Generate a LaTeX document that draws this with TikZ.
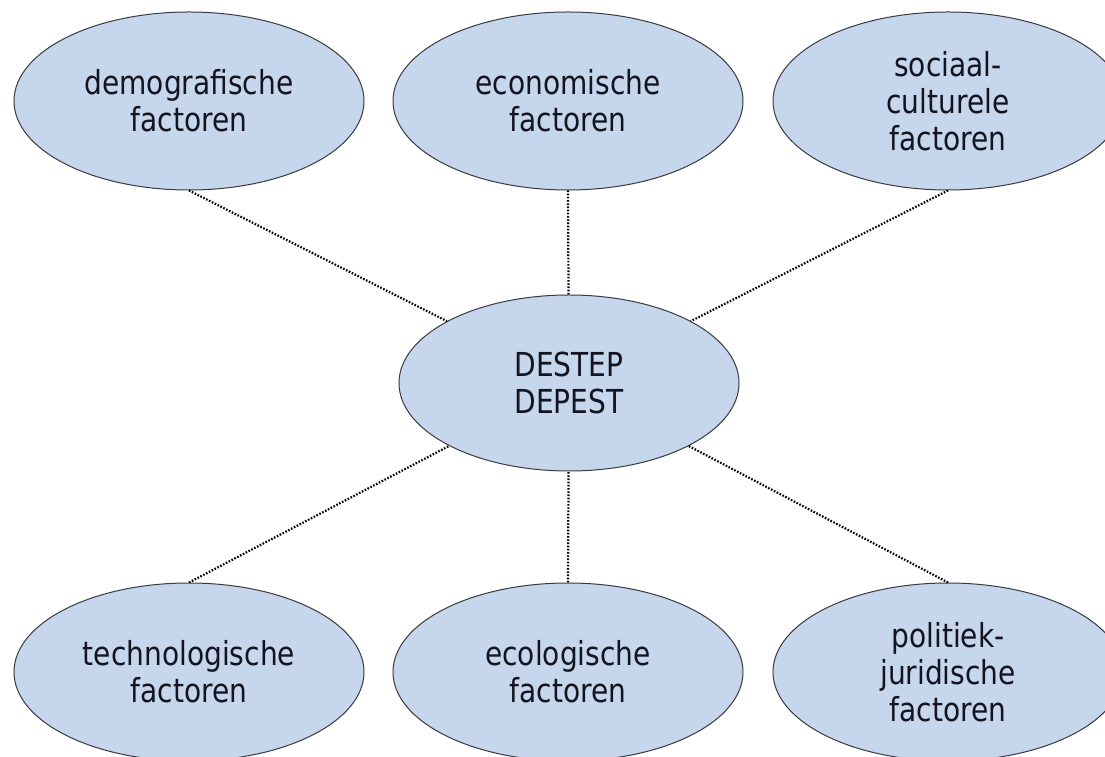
\documentclass[tikz,border=0pt]{standalone}
\usepackage{fontspec}
\setmainfont{DejaVu Sans}[FakeStretch=0.85]
\usepackage{tikz}
\usetikzlibrary{shapes.geometric}
\usepackage{xcolor}
\definecolor{factorFill}{HTML}{C6D6EC}
\definecolor{factorLine}{HTML}{3A3A40}
\definecolor{factorText}{HTML}{141420}
\tikzset{
    factor/.style={ellipse, draw=factorLine, fill=factorFill, line width=1pt, inner sep=0pt, minimum width=350pt, minimum height=178pt, align=center, text=factorText, font=\fontsize{33}{37}\selectfont},
    core/.style={factor, minimum width=340pt, minimum height=176pt},
    link/.style={line width=2.2pt, dash pattern=on 1.6pt off 1.6pt, draw=black},
}
\begin{document}
\begin{tikzpicture}[x=1pt, y=1pt]
    \useasboundingbox[fill=white] (0,0) rectangle (1105,757);
    \node[core] (destep) at (569,374) {DESTEP\\DEPEST};
    \node[factor] (demo) at (189,656) {demografische\\factoren};
    \node[factor] (econ) at (568,656) {economische\\factoren};
    \node[factor] (soc) at (948,656) {sociaal-\\culturele\\factoren};
    \node[factor] (tech) at (189,85) {technologische\\factoren};
    \node[factor] (eco) at (568,85) {ecologische\\factoren};
    \node[factor] (pol) at (948,85) {politiek-\\juridische\\factoren};

    \draw[link] (demo.south) -- (destep);
    \draw[link] (econ.south) -- (destep);
    \draw[link] (soc.south) -- (destep);
    \draw[link] (tech.north) -- (destep);
    \draw[link] (eco.north) -- (destep);
    \draw[link] (pol.north) -- (destep);
\end{tikzpicture}
\end{document}
